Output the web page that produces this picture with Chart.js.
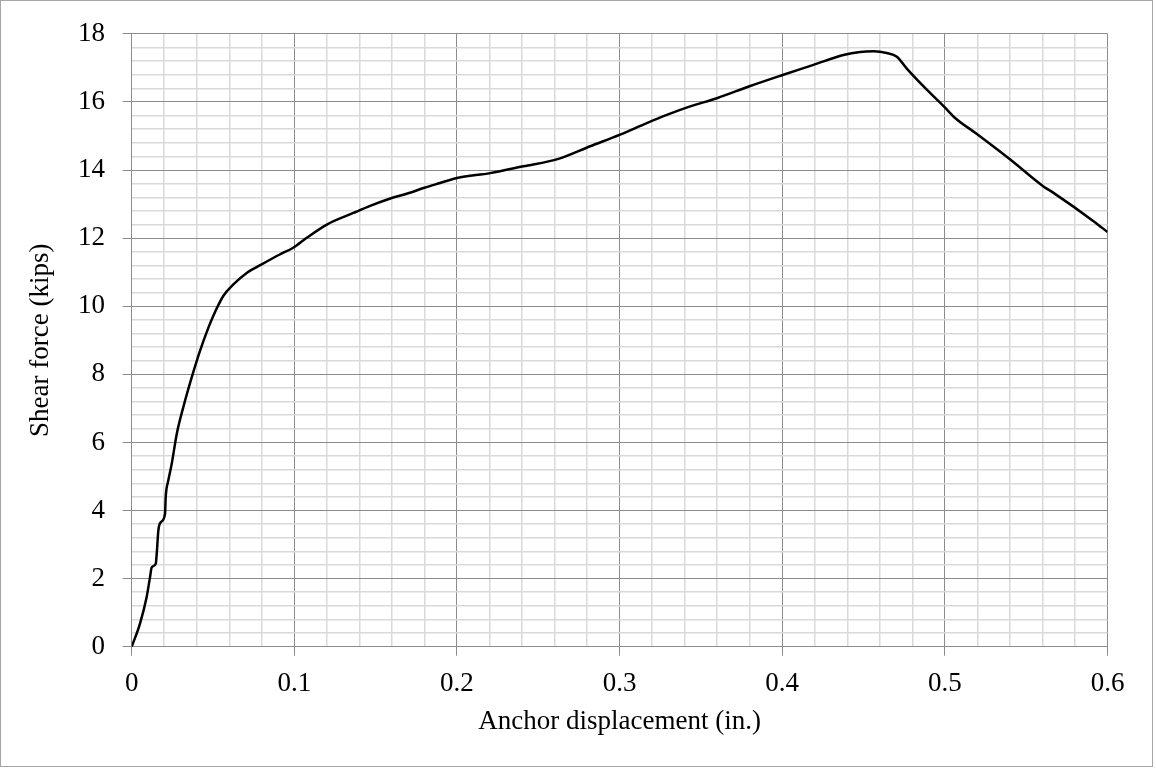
<!DOCTYPE html>
<html>
<head>
<meta charset="utf-8">
<script src="https://cdn.jsdelivr.net/npm/chart.js@4.4.1/dist/chart.umd.min.js"></script>
<style>
    html, body { margin: 0; padding: 0; background: #ffffff; }
    #wrap { width: 1156px; height: 769px; position: relative; }
</style>
</head>
<body>
<div id="wrap"><canvas id="chart" width="1156" height="769"></canvas></div>
<script>
// anchor displacement (in.)
const displacement = [
    0, 0.0051, 0.0092, 0.0113, 0.0123, 0.0148, 0.0154, 0.0164, 0.018, 0.0205,
    0.0209, 0.0225, 0.0246, 0.0277, 0.0317, 0.0369, 0.042, 0.047, 0.05, 0.0563,
    0.0625, 0.0707, 0.0799, 0.091, 0.0993, 0.1076, 0.12, 0.1363, 0.1466, 0.1568,
    0.17, 0.18, 0.1896, 0.2, 0.2204, 0.2408, 0.2624, 0.2819, 0.3003, 0.3167,
    0.329, 0.3434, 0.3598, 0.3803, 0.4007, 0.4192, 0.4376, 0.4479, 0.4561, 0.4643,
    0.4705, 0.4766, 0.4889, 0.5, 0.5063, 0.5197, 0.5402, 0.5606, 0.5668, 0.5914,
    0.6,
];
// shear force (kips)
const shearForce = [
    0, 0.68, 1.46, 2.05, 2.33, 2.44, 2.74, 3.42, 3.66, 3.91,
    4.39, 4.88, 5.37, 6.25, 7.03, 7.91, 8.69, 9.35, 9.7, 10.3,
    10.64, 10.98, 11.23, 11.52, 11.72, 12.01, 12.4, 12.74, 12.95, 13.13,
    13.32, 13.48, 13.62, 13.77, 13.91, 14.11, 14.33, 14.7, 15.04, 15.38,
    15.62, 15.87, 16.11, 16.47, 16.8, 17.09, 17.38, 17.47, 17.49, 17.44,
    17.33, 16.98, 16.36, 15.84, 15.53, 15.06, 14.31, 13.52, 13.33, 12.5,
    12.18,
];

const xMajorTicks = [0, 0.1, 0.2, 0.3, 0.4, 0.5, 0.6];
const yMajorTicks = [0, 2, 4, 6, 8, 10, 12, 14, 16, 18];

const serif = "'Liberation Serif', 'Times New Roman', serif";
const majorGrid = "#8c8c8c";
const minorGrid = "#d9d9d9";

const isMajor = (value, majors) => majors.some((m) => Math.abs(m - value) < 1e-6);

const frame = {
    id: "frame",
    afterDraw(chart) {
        const ctx = chart.ctx;
        ctx.save();
        ctx.strokeStyle = "#a6a6a6";
        ctx.lineWidth = 1;
        ctx.strokeRect(0.5, 0.5, 1152, 766);
        ctx.restore();
    },
};

const points = displacement.map((x, i) => ({ x, y: shearForce[i] }));

new Chart(document.getElementById("chart"), {
    type: "line",
    data: {
        datasets: [
            {
                data: points,
                borderColor: "#000000",
                borderWidth: 2.5,
                pointRadius: 0,
                fill: false,
                cubicInterpolationMode: "monotone",
            },
        ],
    },
    options: {
        responsive: false,
        animation: false,
        layout: { padding: { left: 0, top: 32.3, right: 48.5, bottom: 0 } },
        plugins: {
            legend: { display: false },
            tooltip: { enabled: false },
        },
        scales: {
            x: {
                type: "linear",
                min: 0,
                max: 0.6,
                border: { color: majorGrid, width: 1 },
                grid: {
                    color: (c) => (isMajor(c.tick.value, xMajorTicks) ? majorGrid : minorGrid),
                    lineWidth: (c) => (isMajor(c.tick.value, xMajorTicks) ? 1 : 1.5),
                    tickColor: (c) => (isMajor(c.tick.value, xMajorTicks) ? majorGrid : "rgba(0,0,0,0)"),
                    tickLength: 9,
                },
                ticks: {
                    stepSize: 0.02,
                    maxTicksLimit: 100,
                    autoSkip: false,
                    maxRotation: 0,
                    padding: 12,
                    color: "#000000",
                    font: { family: serif, size: 27 },
                    callback: (v) => (isMajor(v, xMajorTicks) ? String(Math.round(v * 10) / 10) : ""),
                },
                title: {
                    display: true,
                    text: "Anchor displacement (in.)",
                    color: "#000000",
                    font: { family: serif, size: 27 },
                    padding: { top: 0, bottom: 31 },
                },
                afterFit: (scale) => { scale.height = 122.3; },
            },
            y: {
                type: "linear",
                min: 0,
                max: 18,
                border: { color: majorGrid, width: 1 },
                grid: {
                    color: (c) => (isMajor(c.tick.value, yMajorTicks) ? majorGrid : minorGrid),
                    lineWidth: (c) => (isMajor(c.tick.value, yMajorTicks) ? 1 : 1.5),
                    tickColor: (c) => (isMajor(c.tick.value, yMajorTicks) ? majorGrid : "rgba(0,0,0,0)"),
                    tickLength: 9,
                },
                ticks: {
                    stepSize: 0.4,
                    maxTicksLimit: 100,
                    autoSkip: false,
                    padding: 17.7,
                    color: "#000000",
                    font: { family: serif, size: 27 },
                    callback: (v) => (isMajor(v, yMajorTicks) ? String(Math.round(v)) : ""),
                },
                title: {
                    display: true,
                    text: "Shear force (kips)",
                    color: "#000000",
                    font: { family: serif, size: 27 },
                    padding: { top: 25, bottom: 0 },
                },
                afterFit: (scale) => { scale.width = 131.7; },
            },
        },
    },
    plugins: [frame],
});
</script>
</body>
</html>
